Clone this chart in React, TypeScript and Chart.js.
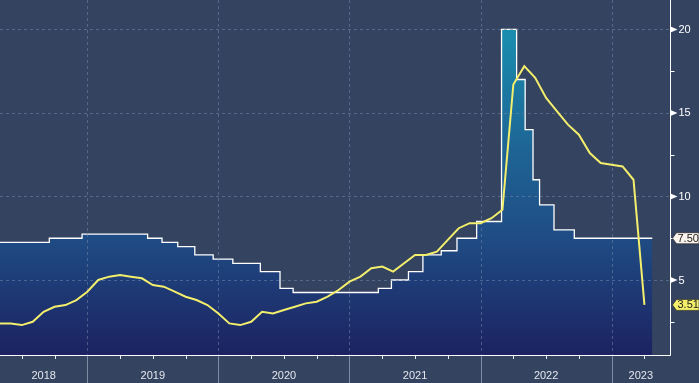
import React, { useEffect, useRef } from 'react';
import { Chart, registerables } from 'chart.js';

Chart.register(...registerables);

// Key policy rate: change dates (decimal years) and new values
const rateChangeDates = [
  2018.3, 2018.71, 2018.96, 2019.46, 2019.57, 2019.69, 2019.82, 2019.96,
  2020.11, 2020.32, 2020.47, 2020.57, 2021.22, 2021.32, 2021.45, 2021.56,
  2021.7, 2021.82, 2021.97, 2022.16, 2022.275, 2022.34, 2022.4, 2022.45,
  2022.56, 2022.715, 2023.31,
];
const rateValues = [
  7.25, 7.5, 7.75, 7.5, 7.25, 7.0, 6.5, 6.25,
  6.0, 5.5, 4.5, 4.25, 4.5, 5.0, 5.5, 6.5,
  6.75, 7.5, 8.5, 20.0, 17.0, 14.0, 11.0, 9.5,
  8.0, 7.5, 7.5,
];

// Inflation (YoY %), month-end points starting April 2018
const cpiStartYear = 2018;
const cpiStartMonth = 4;
const cpiValues = [
  2.4, 2.4, 2.3, 2.5, 3.1, 3.4, 3.5, 3.8, 4.3,
  5.0, 5.2, 5.3, 5.2, 5.1, 4.7, 4.6, 4.3, 4.0, 3.8, 3.5, 3.0,
  2.4, 2.3, 2.5, 3.1, 3.0, 3.2, 3.4, 3.6, 3.7, 4.0, 4.4, 4.9,
  5.2, 5.7, 5.8, 5.5, 6.0, 6.5, 6.5, 6.7, 7.4, 8.1, 8.4, 8.4,
  8.7, 9.2, 16.7, 17.8, 17.1, 15.9, 15.1, 14.3, 13.7, 12.6, 12.0, 11.9,
  11.8, 11.0, 3.51,
];

const yearLabels = ['2018', '2019', '2020', '2021', '2022', '2023'];
const yMajorTicks = [5, 10, 15, 20];
const yMinorTicks = [2.5, 7.5, 12.5, 17.5];

const X_MIN = 2018.334;
const X_MAX = 2023.445;
const Y_MIN = 0.51;
const Y_MAX = 21.76;

const BG = '#344360';
const FONT = '11px "Liberation Sans", Arial, sans-serif';

export default function App() {
  const ref = useRef<HTMLCanvasElement | null>(null);

  useEffect(() => {
    document.body.style.margin = '0';
    const canvas = ref.current;
    if (!canvas) return;

    const rateData = rateChangeDates.map((d, i) => ({ x: d, y: rateValues[i] }));
    const cpiData = cpiValues.map((v, i) => {
      const m = cpiStartMonth + i; // month number counted from Jan of start year
      return { x: cpiStartYear + m / 12, y: v };
    });

    const decorPlugin = {
      id: 'decor',
      beforeDraw(chart: any) {
        const ctx = chart.ctx;
        ctx.save();
        ctx.fillStyle = BG;
        ctx.fillRect(0, 0, chart.width, chart.height);
        ctx.restore();
      },
      afterDatasetDraw(chart: any, args: any) {
        if (args.index !== 0) return;
        const ctx = chart.ctx;
        const { left, right, top, bottom } = chart.chartArea;
        const xs = chart.scales.x;
        const ys = chart.scales.y;
        ctx.save();
        ctx.strokeStyle = 'rgba(115,135,170,0.55)';
        ctx.lineWidth = 1;
        ctx.setLineDash([3, 3]);
        yMajorTicks.forEach((v) => {
          const y = Math.round(ys.getPixelForValue(v)) + 0.5;
          ctx.beginPath();
          ctx.moveTo(left, y);
          ctx.lineTo(right, y);
          ctx.stroke();
        });
        for (let yr = 2019; yr <= 2023; yr++) {
          const x = Math.round(xs.getPixelForValue(yr)) + 0.5;
          ctx.beginPath();
          ctx.moveTo(x, top);
          ctx.lineTo(x, bottom);
          ctx.stroke();
        }
        ctx.restore();
      },
      afterDraw(chart: any) {
        const ctx = chart.ctx;
        const { left, right, top, bottom } = chart.chartArea;
        const xs = chart.scales.x;
        const ys = chart.scales.y;
        const H = chart.height;
        ctx.save();
        // year separators
        ctx.strokeStyle = '#7f8ca4';
        ctx.lineWidth = 1;
        for (let yr = 2019; yr <= 2023; yr++) {
          const x = Math.round(xs.getPixelForValue(yr)) + 0.5;
          ctx.beginPath();
          ctx.moveTo(x, bottom);
          ctx.lineTo(x, H);
          ctx.stroke();
        }
        // quarter ticks
        ctx.strokeStyle = '#e8ecf2';
        for (let q = 2018.25; q < X_MAX; q += 0.25) {
          if (q < X_MIN || Math.abs(q - Math.round(q)) < 1e-6) continue;
          const x = Math.round(xs.getPixelForValue(q)) + 0.5;
          ctx.beginPath();
          ctx.moveTo(x, bottom);
          ctx.lineTo(x, bottom + 4);
          ctx.stroke();
        }
        // axes
        ctx.strokeStyle = '#ffffff';
        const by = Math.round(bottom) + 0.5;
        const rx = Math.round(right) + 0.5;
        ctx.beginPath();
        ctx.moveTo(left, by);
        ctx.lineTo(rx, by);
        ctx.moveTo(rx, top);
        ctx.lineTo(rx, by);
        ctx.stroke();
        // year labels
        ctx.font = FONT;
        ctx.fillStyle = '#e4e8ee';
        ctx.textAlign = 'center';
        ctx.textBaseline = 'middle';
        yearLabels.forEach((lab) => {
          const yr = parseInt(lab, 10);
          const a = Math.max(yr, X_MIN);
          const b = Math.min(yr + 1, X_MAX);
          const x = (xs.getPixelForValue(a) + xs.getPixelForValue(b)) / 2;
          ctx.fillText(lab, x, bottom + 21);
        });
        // y minor ticks
        ctx.strokeStyle = '#ffffff';
        yMinorTicks.forEach((v) => {
          const y = Math.round(ys.getPixelForValue(v)) + 0.5;
          ctx.beginPath();
          ctx.moveTo(rx, y);
          ctx.lineTo(rx + 4, y);
          ctx.stroke();
        });
        // y major ticks (triangles) + labels
        ctx.textAlign = 'left';
        yMajorTicks.forEach((v) => {
          const y = ys.getPixelForValue(v);
          ctx.fillStyle = '#ffffff';
          ctx.beginPath();
          ctx.moveTo(rx, y - 3);
          ctx.lineTo(rx + 7, y);
          ctx.lineTo(rx, y + 3);
          ctx.closePath();
          ctx.fill();
          ctx.fillText(String(v), rx + 8, y + 0.5);
        });
        // last value boxes
        const drawBox = (val: number, fill: string) => {
          const y = ys.getPixelForValue(val);
          const x0 = rx + 2;
          const h = 11;
          ctx.beginPath();
          ctx.moveTo(x0, y);
          ctx.lineTo(x0 + 4, y - h / 2);
          ctx.lineTo(chart.width, y - h / 2);
          ctx.lineTo(chart.width, y + h / 2);
          ctx.lineTo(x0 + 4, y + h / 2);
          ctx.closePath();
          ctx.fillStyle = fill;
          ctx.fill();
          ctx.strokeStyle = 'rgba(30,30,30,0.6)';
          ctx.stroke();
          ctx.fillStyle = '#1b1b1b';
          ctx.textAlign = 'left';
          ctx.fillText(val.toFixed(2), x0 + 5, y + 0.5);
        };
        drawBox(rateValues[rateValues.length - 1], '#fbf4ec');
        drawBox(cpiValues[cpiValues.length - 1], '#f4ef6a');
        ctx.restore();
      },
    };

    const chart = new Chart(canvas, {
      type: 'line',
      data: {
        datasets: [
          {
            data: rateData,
            stepped: true,
            borderColor: '#ffffff',
            borderWidth: 1.3,
            pointRadius: 0,
            order: 2,
            fill: 'start',
            backgroundColor: (c: any) => {
              const area = c.chart.chartArea;
              if (!area) return '#1f4c84';
              const g = c.chart.ctx.createLinearGradient(0, area.top + 20, 0, area.bottom);
              g.addColorStop(0, '#1991b1');
              g.addColorStop(0.4, '#1e6394');
              g.addColorStop(0.65, '#1f4c84');
              g.addColorStop(1, '#1c2262');
              return g;
            },
          },
          {
            data: cpiData,
            borderColor: '#f3ee6c',
            borderWidth: 2,
            pointRadius: 0,
            tension: 0,
            order: 1,
            fill: false,
          },
        ],
      },
      options: {
        animation: false,
        responsive: true,
        maintainAspectRatio: false,
        parsing: true,
        layout: { padding: { left: 0, right: 29, top: 0, bottom: 28 } },
        plugins: {
          legend: { display: false },
          tooltip: { enabled: false },
        },
        scales: {
          x: { type: 'linear', min: X_MIN, max: X_MAX, display: false },
          y: { type: 'linear', min: Y_MIN, max: Y_MAX, display: false },
        },
      },
      plugins: [decorPlugin],
    } as any);

    return () => chart.destroy();
  }, []);

  return (
    <div style={{ position: 'absolute', left: 0, top: 0, width: 699, height: 383 }}>
      <canvas ref={ref} />
    </div>
  );
}
